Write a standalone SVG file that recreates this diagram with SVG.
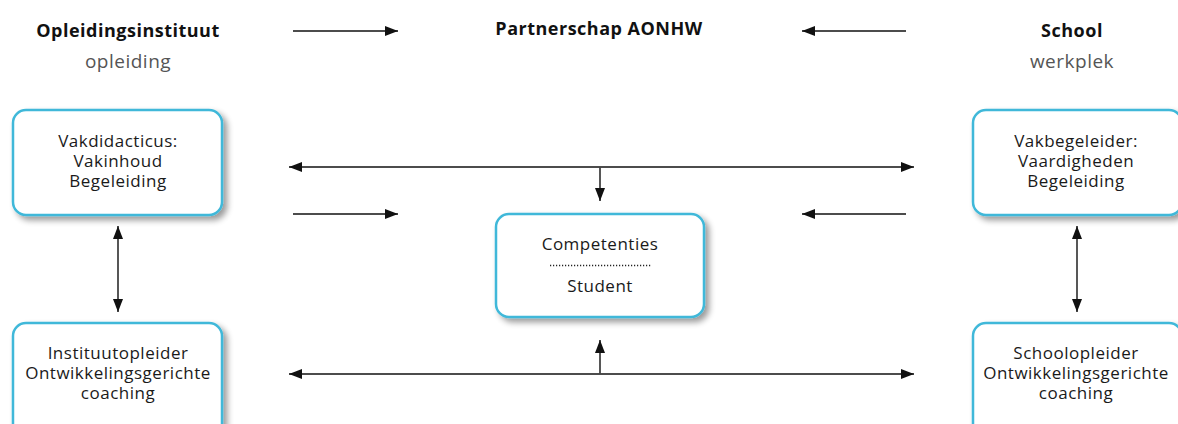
<svg xmlns="http://www.w3.org/2000/svg" width="1178" height="424" viewBox="0 0 1178 424">
<style>
.box{fill:#fff;stroke:#3fb8d9;stroke-width:2.5}
.t{font-family:"Open Sans","Liberation Sans",sans-serif;font-size:17px;letter-spacing:0.5px;fill:#1a1a1a;text-anchor:middle}
.h{font-family:"Open Sans","Liberation Sans",sans-serif;font-size:18px;letter-spacing:0.5px;font-weight:bold;fill:#111;text-anchor:middle}
.s{font-family:"Open Sans","Liberation Sans",sans-serif;font-size:19px;letter-spacing:0.5px;fill:#555;text-anchor:middle}
.c{stroke:#111;stroke-width:1.4;fill:none}
.v{stroke:#444;stroke-width:1.8;fill:none}
</style>
<defs>
<marker id="ah" markerUnits="userSpaceOnUse" markerWidth="14" markerHeight="10" refX="13" refY="5" orient="auto-start-reverse">
<path d="M0,0 L13,5 L0,10 Z" fill="#111"/>
</marker>
<filter id="sh" x="-10%" y="-10%" width="130%" height="140%">
<feGaussianBlur in="SourceAlpha" stdDeviation="3"/>
<feOffset dx="4" dy="4" result="b"/>
<feComponentTransfer><feFuncA type="linear" slope="0.4"/></feComponentTransfer>
<feMerge><feMergeNode/><feMergeNode in="SourceGraphic"/></feMerge>
</filter>
</defs>

<g id="header-left">
<text class="h" x="128" y="37">Opleidingsinstituut</text>
<text class="s" x="128" y="68">opleiding</text>
</g>
<g id="header-center">
<text class="h" x="599" y="35">Partnerschap AONHW</text>
</g>
<g id="header-right">
<text class="h" x="1072" y="37">School</text>
<text class="s" x="1072" y="68">werkplek</text>
</g>

<g id="vakdidacticus">
<rect class="box" x="13" y="110" width="209" height="105" rx="13" filter="url(#sh)"/>
<text class="t" x="118" y="147">Vakdidacticus:</text>
<text class="t" x="118" y="167">Vakinhoud</text>
<text class="t" x="118" y="187">Begeleiding</text>
</g>
<g id="instituutopleider">
<rect class="box" x="13" y="323" width="209" height="115" rx="13" filter="url(#sh)"/>
<text class="t" x="118" y="359">Instituutopleider</text>
<text class="t" x="118" y="379">Ontwikkelingsgerichte</text>
<text class="t" x="118" y="399">coaching</text>
</g>
<g id="vakbegeleider">
<rect class="box" x="973" y="110" width="209" height="105" rx="13" filter="url(#sh)"/>
<text class="t" x="1076" y="147">Vakbegeleider:</text>
<text class="t" x="1076" y="167">Vaardigheden</text>
<text class="t" x="1076" y="187">Begeleiding</text>
</g>
<g id="schoolopleider">
<rect class="box" x="973" y="323" width="209" height="115" rx="13" filter="url(#sh)"/>
<text class="t" x="1076" y="359">Schoolopleider</text>
<text class="t" x="1076" y="379">Ontwikkelingsgerichte</text>
<text class="t" x="1076" y="399">coaching</text>
</g>
<g id="competenties">
<rect class="box" x="496" y="214" width="208" height="103" rx="13" filter="url(#sh)"/>
<text class="t" x="600" y="250">Competenties</text>
<line x1="550" y1="265.5" x2="652" y2="265.5" stroke="#222" stroke-width="1.6" stroke-dasharray="1.2 1.8"/>
<text class="t" x="600" y="292">Student</text>
</g>

<g id="connectors">
<line class="c" x1="293" y1="31" x2="398" y2="31" marker-end="url(#ah)"/>
<line class="c" x1="906" y1="31" x2="802" y2="31" marker-end="url(#ah)"/>
<line class="c" x1="289" y1="167" x2="914" y2="167" marker-start="url(#ah)" marker-end="url(#ah)"/>
<line class="v" x1="600" y1="167" x2="600" y2="201" marker-end="url(#ah)"/>
<line class="c" x1="293" y1="214" x2="398" y2="214" marker-end="url(#ah)"/>
<line class="c" x1="906" y1="214" x2="802" y2="214" marker-end="url(#ah)"/>
<line class="c" x1="289" y1="374" x2="914" y2="374" marker-start="url(#ah)" marker-end="url(#ah)"/>
<line class="v" x1="600" y1="374" x2="600" y2="340" marker-end="url(#ah)"/>
<line class="v" x1="118" y1="226" x2="118" y2="312" marker-start="url(#ah)" marker-end="url(#ah)"/>
<line class="c" x1="1077" y1="226" x2="1077" y2="312" marker-start="url(#ah)" marker-end="url(#ah)"/>
</g>
</svg>
